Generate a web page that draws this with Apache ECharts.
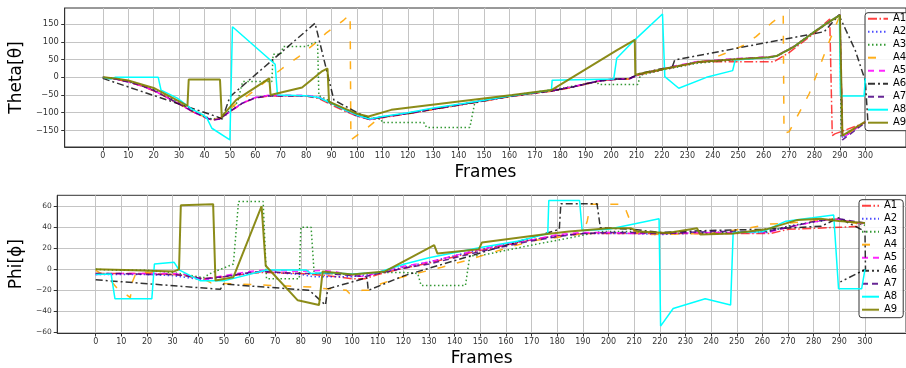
<!DOCTYPE html>
<html><head><meta charset="utf-8">
<script src="https://cdn.jsdelivr.net/npm/echarts@6/dist/echarts.min.js"></script>
<style>html,body{margin:0;padding:0;background:#fff}#c{width:906px;height:368px}</style>
</head><body><div id="c"></div>
<script>
// ---------- tick labels ----------
const xTicks = [0,10,20,30,40,50,60,70,80,90,100,110,120,130,140,150,160,170,180,190,200,210,220,230,240,250,260,270,280,290,300];
const thetaTicks = [-150,-100,-50,0,50,100,150];
const phiTicks = [-60,-40,-20,0,20,40,60];
const seriesNames = ['A1','A2','A3','A4','A5','A6','A7','A8','A9'];

// ---------- Theta values [frame, value] ----------
const thetaA1 = [[0,-1],[5,-5],[10,-13],[15,-24],[20,-38],[25,-56],[30,-76],[35,-96],[40,-113],[43,-121],[46,-117],[50,-97],[55,-73],[60,-58],[65,-53],[80,-53],[85,-60],[90,-78],[95,-95],[100,-110],[105,-119],[110,-114],[120,-103],[130,-91],[140,-79],[150,-67],[160,-55],[170,-45],[177,-39],[185,-28],[195,-11],[201,-6],[207,-5],[211,7],[221,23],[234,42],[237,44],[264,44],[270,70],[280,125],[286,165],[287,-165],[288,-160],[300,-128]];
const thetaA2 = [[0,0],[5,-4],[10,-12],[15,-22],[20,-36],[25,-54],[30,-74],[35,-94],[40,-111],[43,-119],[46,-116],[50,-95],[55,-72],[60,-57],[65,-52],[80,-52],[85,-57],[90,-74],[95,-91],[100,-107],[105,-118],[110,-112],[120,-101],[130,-89],[140,-77],[150,-65],[160,-53],[170,-43],[177,-37],[185,-27],[195,-10],[201,-5],[207,-4],[211,9],[221,25],[234,44],[249,52],[262,57],[265,60],[272,87],[280,129],[285,153],[290,176],[291,-172],[300,-126]];
const thetaA3 = [[0,0],[5,-4],[10,-11],[15,-21],[20,-35],[25,-53],[30,-73],[35,-94],[40,-111],[43,-118],[46,-114],[48,-110],[53,-70],[55,-12],[66.5,-12],[67,65],[70,65],[71,87],[80,87],[83.5,99],[84.5,95],[85,-52],[88,-62],[90,-73],[95,-90],[100,-106],[105,-116],[109.6,-118],[109.8,-128],[126.3,-128],[127.4,-142],[144.4,-142],[146.3,-73],[150,-65],[160,-52],[170,-42],[177,-35],[185,-25],[194.5,-12],[195,-20],[210.5,-20],[211.5,6],[221,22],[234,40],[249,50],[262,56],[265,60],[272,88],[280,130],[285,155],[290,176],[290.5,-168],[300,-127]];
const thetaA4 = [[0,0],[5,-3],[10,-10],[15,-21],[20,-36],[25,-55],[30,-74],[35,-95],[40,-112],[43,-120],[46,-116],[50,-90],[52.6,-74],[60,-36],[65.5,-3],[70.6,25],[77,58],[83.5,96],[87.7,124],[94.8,162],[97.3,178],[97.6,-177],[98,-173],[104.5,-140],[109,-114],[120,-102],[130,-90],[140,-78],[150,-66],[160,-54],[170,-44],[177,-38],[185,-27],[195,-10],[201,-5],[207,-4],[211,8],[221,24],[234,43],[237,46],[245,68],[252,90],[257,115],[263,153],[267.7,179],[268,-158],[270,-154],[274,-100],[278,-45],[282,30],[286,105],[290,175],[291,-170],[300,-125]];
const thetaA5 = [[0,0],[5,-5],[10,-12],[15,-23],[20,-37],[25,-56],[30,-75],[35,-96],[40,-113],[43,-121],[46,-118],[50,-97],[55,-73],[60,-57],[65,-51],[80,-51],[85,-56],[90,-73],[95,-91],[100,-108],[105,-119],[110,-113],[120,-101],[130,-89],[140,-77],[150,-65],[160,-53],[170,-43],[177,-37],[185,-26],[195,-10],[201,-5],[207,-4],[211,9],[221,26],[234,45],[249,53],[262,58],[265,61],[272,88],[280,130],[285,154],[290,176],[291,-172],[300,-126]];
const thetaA6 = [[0,-3],[44.8,-111],[47,-118],[50,-55],[83.5,153],[89,-8],[90.9,-64],[100.6,-102],[105,-117],[110,-112],[120,-102],[130,-90],[140,-78],[150,-66],[160,-54],[170,-44],[177,-38],[185,-27],[195,-10],[201,-5],[207,-4],[211,10],[221,26],[224,28],[225,49],[283.8,129],[289.6,176],[296,77],[300,-10],[301,-125]];
const thetaA7 = [[0,-1],[5,-5],[10,-13],[15,-23],[20,-37],[25,-56],[30,-75],[35,-95],[40,-112],[43,-121],[46,-118],[50,-96],[55,-73],[60,-58],[65,-53],[80,-53],[85,-58],[90,-75],[95,-92],[100,-109],[105,-119],[110,-113],[120,-102],[130,-90],[140,-78],[150,-66],[160,-54],[170,-44],[177,-38],[185,-27],[195,-11],[201,-6],[207,-5],[211,8],[221,24],[234,43],[249,51],[262,56],[265,59],[272,86],[280,128],[285,152],[290,177],[291,-177],[300,-128]];
const thetaA8 = [[0,0],[3,-5],[5,0],[21.8,0],[22.9,-36],[29.3,-59],[35,-90],[39.6,-107],[41,-116],[42.9,-144],[50,-177],[51,143],[67.8,37],[68.7,-50],[80,-52],[85,-57],[90,-74],[95,-91],[100,-107],[105,-118],[110,-111],[120,-100],[130,-87],[140,-76],[150,-65],[160,-53],[170,-43],[176.5,-36],[176.8,-8],[201,-5],[202.2,54],[209.3,106],[220.2,179],[221.1,2],[226.6,-31],[237.5,0],[247.8,19],[248.8,49],[262,56],[265,60],[272,87],[280,129],[285,153],[289.8,175],[290.2,-53],[299.5,-53],[300,-3]];
const thetaA9 = [[0,0],[5,-3],[10,-9],[20,-30],[28,-60],[33.3,-81],[33.8,-6],[46.1,-6],[46.8,-111],[52.5,-64],[65.5,-3],[66,-50],[78.4,-29],[86,16],[88.4,25],[89,-69],[95,-88],[100,-103],[104.5,-111],[113.5,-92],[132.8,-75],[161.1,-50],[176.5,-36],[202.3,77],[209.3,106],[209.5,7],[221,24],[234,43],[249,51],[262,57],[265,60],[272,87],[280,129],[285,153],[290,176],[291,-165],[300,-125]];

// ---------- Phi values [frame, value] ----------
const phiA1 = [[0,-4],[10,-4],[20,-4],[30,-5],[35,-6],[42,-9],[50,-7],[60,-4],[65,-3],[80,-4],[90,-6],[100,-9],[105,-9],[110,-5],[120,1],[130,6],[140,12],[150,18],[160,23],[170,28],[180,32],[190,34],[200,34],[210,34],[220,34],[240,34],[263,34],[270,38],[280,39],[290,40],[300,41]];
const phiA2 = [[0,-5],[10,-5],[20,-5],[30,-6],[42,-10],[50,-7],[60,-4],[65,-2],[80,-5],[85,-7],[90,-7],[100,-7],[110,-4],[120,2],[130,7],[140,13],[150,19],[160,24],[170,28],[180,32],[190,34],[200,34],[210,34],[220,33],[240,35],[262,35],[270,41],[280,45],[288,48],[300,43]];
const phiA3 = [[0,0],[10,-1],[20,-1],[30,-3],[35,-5],[42,-8],[44.7,-4],[53.7,5],[55.7,64.5],[65.3,64.5],[66.6,-9],[79.4,-9],[80,40],[84,40],[85.2,-4],[90,-4],[100,-5],[110,-3],[120,-3],[125.6,-4],[126.9,-15.4],[144.2,-15.4],[145.9,13],[150,13],[160,18],[172,24],[185,30],[197.4,36],[210,36],[220,34],[240,35],[262,36],[270,41],[280,45],[288,48],[300,42]];
const phiA4 = [[0,-1],[5,-8],[8,-17],[13.5,-27],[14.3,-12],[16,-2],[25,-4],[35,-6],[42,-9],[45,-13],[55,-14],[65,-15],[75,-16],[85,-17],[90,-18.6],[92,-18.6],[97.8,-20],[99,-23],[104,-20],[106.6,-20],[111,-14],[117,-9],[125,-4],[135,2],[144,8],[160,20],[170,27],[185,32],[190,34],[191.7,46],[193,62],[206,62],[207,55],[210,36],[213,33],[240,34],[254,39],[263,43],[270,44],[280,46],[288,48],[300,42]];
const phiA5 = [[0,-5],[10,-4],[20,-4],[30,-4],[35,-5],[42,-10],[50,-6],[60,-2],[65,-1],[80,-2],[88,-1],[93,-2],[100,-6],[105,-7],[110,-3],[120,3],[130,7],[140,13],[150,19],[160,24],[170,28],[180,33],[190,35],[200,35],[210,34],[220,34],[240,35],[262,35],[270,40],[280,45],[288,48],[300,43]];
const phiA6 = [[0,-10],[48.6,-19],[49.9,-14],[83.3,-20],[89.6,-34],[90.5,-18.6],[105.8,-8],[106.3,-20],[120.4,-6],[180.8,38],[181.4,62.4],[195.5,62.4],[196.8,39.5],[210,38],[220,35],[240,37],[260,38],[283,41],[289.8,49],[300,36],[300.2,0],[290.4,-12]];
const phiA7 = [[0,-4],[10,-4],[20,-5],[30,-5],[35,-6],[42,-9],[50,-7],[60,-3],[65,-2],[80,-4],[90,-4],[100,-6],[105,-7],[110,-4],[120,1],[130,5],[140,11],[150,17],[160,22],[170,27],[180,31],[190,34],[200,35],[210,35],[220,34],[240,36],[262,36],[270,40],[281,46],[290,48],[300,44]];
const phiA8 = [[0,-5],[6,-4.4],[7.5,-28],[21.9,-28],[22.9,5],[30.6,6.6],[32.5,-0.6],[40.9,-11],[50,-11],[66.6,-0.6],[82,-0.6],[84,-4],[90,-3],[100,-4.4],[110,-3],[120.5,5],[130,11],[150,20.7],[165,27],[176.3,34],[176.7,65.5],[188.7,65.5],[189.7,37],[200,38],[219.7,48],[220.3,-54],[225.2,-37.3],[237.7,-28],[247.6,-34],[248.6,35],[260,35.7],[269.2,45.8],[279.5,49],[287.8,51.7],[289.7,-18.6],[298.7,-18.6],[300,0]];
const phiA9 = [[0,0],[15,-1],[30.6,-2],[32.5,0],[33.2,61],[45.8,62],[46.7,-10.6],[53.7,-7.5],[64.7,60],[66.3,3.4],[78.8,-29.5],[87.1,-34],[87.8,-35],[88.5,-2],[100,-5],[112.8,-2],[132,23],[133.3,15],[149.4,19],[150.6,25.4],[174.4,33],[184.6,36],[200,39],[208.8,39],[211.3,36],[222.9,34.5],[234.5,39],[235.8,33],[248.6,34],[261.5,38],[273.7,47],[282.7,48],[289.8,46],[300,44]];

const thetaData = [thetaA1,thetaA2,thetaA3,thetaA4,thetaA5,thetaA6,thetaA7,thetaA8,thetaA9];
const phiData = [phiA1,phiA2,phiA3,phiA4,phiA5,phiA6,phiA7,phiA8,phiA9];

// ---------- styles ----------
const lineStyles = [
  {color:'#ff0000', type:[9,2.5,1.5,2.5], width:1.5, opacity:0.75},
  {color:'#0000ff', type:[1.5,2.5], width:1.5, opacity:0.7},
  {color:'#008000', type:[1.5,2.5], width:1.5, opacity:0.8},
  {color:'#ffa500', type:[8,12], width:1.5, opacity:0.9},
  {color:'#ff00ff', type:[6,5], width:1.5, opacity:0.85},
  {color:'#000000', type:[7,3,2,3], width:1.5, opacity:0.8},
  {color:'#4b0082', type:[6,4], width:1.5, opacity:0.85},
  {color:'#00ffff', type:'solid', width:1.5, opacity:1},
  {color:'#808000', type:'solid', width:2, opacity:0.9}
];

const FONT = 'DejaVu Sans';
const minus = v => String(v).replace('-', '\u2212');

function xAxisCfg(gi){
  return {
    type:'value', gridIndex:gi, min:-15, max:316,
    name:'Frames', nameLocation:'middle', nameGap:17,
    nameTextStyle:{fontFamily:FONT, fontSize:17, color:'#000'},
    axisLine:{show:true, onZero:false, lineStyle:{color:'#333', width:1}},
    axisTick:{show:true, length:3.5, customValues:xTicks, lineStyle:{color:'#333'}},
    axisLabel:{customValues:xTicks, fontFamily:FONT, fontSize:8, color:'#333', margin:5, formatter:minus},
    splitLine:{show:true, lineStyle:{color:'#c4c4c4', width:1}}
  };
}
function yAxisCfg(gi, name, min, max, ticks, gap, margin, fs){
  return {
    type:'value', gridIndex:gi, min:min, max:max,
    name:name, nameLocation:'middle', nameGap:gap, nameRotate:90,
    nameTextStyle:{fontFamily:FONT, fontSize:17, color:'#000'},
    axisLine:{show:true, onZero:false, lineStyle:{color:'#333', width:1}},
    axisTick:{show:true, length:3.5, customValues:ticks, lineStyle:{color:'#333'}},
    axisLabel:{customValues:ticks, fontFamily:FONT, fontSize:fs, color:'#333', margin:margin, formatter:minus},
    splitLine:{show:true, lineStyle:{color:'#c4c4c4', width:1}}
  };
}

const series = [];
seriesNames.forEach((n,i)=>{
  const ls = lineStyles[i];
  series.push({name:n, type:'line', xAxisIndex:0, yAxisIndex:0, data:thetaData[i],
    symbol:'none', showSymbol:false, silent:true, z:2+i,
    itemStyle:{color:ls.color}, lineStyle:{color:ls.color, type:ls.type, width:ls.width, opacity:ls.opacity}});
});
seriesNames.forEach((n,i)=>{
  const ls = lineStyles[i];
  series.push({name:n, type:'line', xAxisIndex:1, yAxisIndex:1, data:phiData[i],
    symbol:'none', showSymbol:false, silent:true, z:2+i,
    itemStyle:{color:ls.color}, lineStyle:{color:ls.color, type:ls.type, width:ls.width, opacity:ls.opacity}});
});

function legendCfg(left, top, iw){
  return {
    data:seriesNames, orient:'vertical', left:left, top:top,
    itemWidth:iw, itemHeight:8, itemGap:1,
    padding:[0,6,2,2],
    backgroundColor:'rgba(255,255,255,0.85)', borderColor:'#333', borderWidth:1, borderRadius:3,
    itemStyle:{color:'rgba(0,0,0,0)', borderColor:'rgba(0,0,0,0)', borderWidth:0, opacity:0},
    textStyle:{fontFamily:FONT, fontSize:10, color:'#000', lineHeight:12},
    selectedMode:false
  };
}

const chart = echarts.init(document.getElementById('c'), null, {renderer:'canvas'});
chart.setOption({
  animation:false,
  backgroundColor:'#fff',
  grid:[
    {left:59, top:8, width:854.3, height:139, show:true, borderColor:'#333', borderWidth:1, containLabel:false},
    {left:48.3, top:195.3, width:860, height:139.4, show:true, borderColor:'#333', borderWidth:1, containLabel:false}
  ],
  xAxis:[xAxisCfg(0), xAxisCfg(1)],
  yAxis:[
    yAxisCfg(0, 'Theta[\u03b8]', -197, 196, thetaTicks, 32, 6, 8.3),
    yAxisCfg(1, 'Phi[\u03d5]', -60.6, 70.4, phiTicks, 26, 5.5, 7.5)
  ],
  legend:[legendCfg(865, 12.7, 20), legendCfg(859, 199.7, 17)],
  series:series
});
</script></body></html>
